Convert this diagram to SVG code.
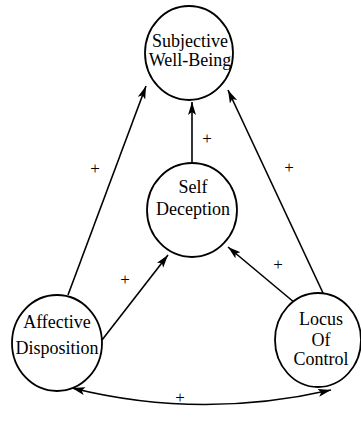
<svg xmlns="http://www.w3.org/2000/svg" width="361" height="421" viewBox="0 0 361 421">
<style>
.node{fill:#fff;stroke:#000;stroke-width:1.8}
.lbl{font-family:"Liberation Serif","Times New Roman",serif;font-size:18px;text-anchor:middle;fill:#000}
.plus{font-family:"Liberation Serif","Times New Roman",serif;font-size:17px;text-anchor:middle;fill:#000}
.edge{fill:none;stroke:#000;stroke-width:1.6}
</style>
<defs>
<marker id="ah" markerWidth="14" markerHeight="10" refX="13" refY="4" orient="auto" markerUnits="userSpaceOnUse">
<path d="M0,0 L13,4 L0,8 L3,4 z" fill="#000"/>
</marker>
<marker id="ahs" markerWidth="14" markerHeight="10" refX="13" refY="4" orient="auto-start-reverse" markerUnits="userSpaceOnUse">
<path d="M0,0 L13,4 L0,8 L3,4 z" fill="#000"/>
</marker>
</defs>
<g id="connectors">
<line class="edge" x1="68" y1="295" x2="146" y2="86" marker-end="url(#ah)"/>
<line class="edge" x1="192" y1="162" x2="192" y2="102" marker-end="url(#ah)"/>
<line class="edge" x1="323" y1="293" x2="228" y2="90" marker-end="url(#ah)"/>
<line class="edge" x1="102" y1="340" x2="168" y2="255" marker-end="url(#ah)"/>
<line class="edge" x1="295" y1="303" x2="228" y2="247" marker-end="url(#ah)"/>
<path class="edge" d="M72,388 Q200,420 331,390" marker-start="url(#ahs)" marker-end="url(#ahs)"/>
<text class="plus" x="95" y="174">+</text>
<text class="plus" x="207" y="144">+</text>
<text class="plus" x="289" y="173">+</text>
<text class="plus" x="125" y="285">+</text>
<text class="plus" x="278" y="270">+</text>
<text class="plus" x="180" y="403">+</text>
</g>
<g id="swb">
<ellipse class="node" cx="189" cy="53" rx="44" ry="47"/>
<text class="lbl" x="190" y="47">Subjective</text>
<text class="lbl" x="190" y="66">Well-Being</text>
</g>
<g id="sd">
<ellipse class="node" cx="192" cy="210" rx="45" ry="47"/>
<text class="lbl" x="193" y="193">Self</text>
<text class="lbl" x="193" y="215">Deception</text>
</g>
<g id="ad">
<ellipse class="node" cx="57" cy="343" rx="45" ry="48"/>
<text class="lbl" x="57" y="328">Affective</text>
<text class="lbl" x="57" y="354">Disposition</text>
</g>
<g id="loc">
<ellipse class="node" cx="318" cy="340" rx="43" ry="47"/>
<text class="lbl" x="321" y="325">Locus</text>
<text class="lbl" x="321" y="346">Of</text>
<text class="lbl" x="321" y="365">Control</text>
</g>
</svg>
